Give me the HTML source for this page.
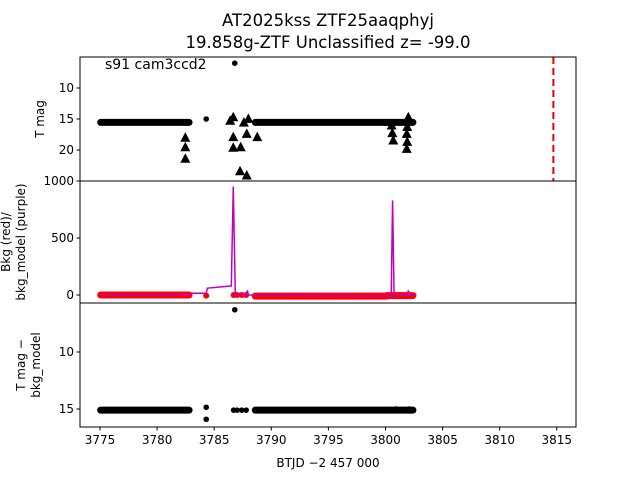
<!DOCTYPE html>
<html><head><meta charset="utf-8"><style>
body{margin:0;background:#fff;}
svg text{font-family:"DejaVu Sans","Liberation Sans",sans-serif;}
</style></head><body>
<svg id="chart" width="640" height="480" viewBox="0 0 640 480" xmlns="http://www.w3.org/2000/svg">
<text x="328" y="26" font-size="16.5" text-anchor="middle">AT2025kss  ZTF25aaqphyj</text>
<text x="328" y="48" font-size="16.5" text-anchor="middle">19.858g-ZTF Unclassified z= -99.0</text>
<g id="marks"></g>
<text x="105" y="69" font-size="14">s91 cam3ccd2</text>
<text transform="translate(44,119) rotate(-90)" font-size="12" text-anchor="middle">T mag</text>
<text transform="translate(10,242) rotate(-90)" font-size="12" text-anchor="middle">Bkg (red)/</text>
<text transform="translate(25,242) rotate(-90)" font-size="12" text-anchor="middle">bkg_model (purple)</text>
<text transform="translate(25,365) rotate(-90)" font-size="12" text-anchor="middle">T mag −</text>
<text transform="translate(40,365) rotate(-90)" font-size="12" text-anchor="middle">bkg_model</text>
<text x="328" y="467" font-size="12" text-anchor="middle">BTJD −2 457 000</text>
</svg>
<script>
const xTicks=[3775,3780,3785,3790,3795,3800,3805,3810,3815];
const topTicks=[10,15,20];
const midTicks=[0,500,1000];
const botTicks=[10,15];
const bandSegs=[[3775.06,3782.8],[3788.6,3800.1],[3800.1,3802.4]];
const topBandMag=[15.55,15.55,15.55];
const topDotsT=[3784.3,3786.8];
const topDotsMag=[15.0,6.0];
const triT=[3782.47,3782.47,3782.47,3786.67,3786.67,3786.67,3787.32,3787.99,3787.85,3788.77,3787.26,3787.85,3800.54,3800.68,3802.0,3801.86,3801.86,3786.4,3787.6,3800.6,3801.9,3801.9];
const triMag=[17.95,19.47,21.34,14.63,17.85,19.56,19.47,14.89,17.31,17.85,23.34,24.03,15.97,18.39,14.63,17.31,19.73,15.2,15.5,17.2,16.2,18.6];
const bkgSegVals=[0,-10,-5];
const bkgDotsT=[3784.3,3786.7,3787.0,3787.4,3787.8,3800.9,3801.3,3801.7,3802.1];
const bkgDotsV=[-5,0,0,0,0,-5,0,0,-5];
const modelT=[3775.06,3782.8,3782.9,3784.3,3784.4,3786.5,3786.67,3786.85,3787.8,3787.9,3788.0,3799.9,3800.5,3800.62,3800.75,3801.9,3802.0,3802.1,3802.7];
const modelV=[0,0,15,15,60,80,950,0,0,40,0,-10,-10,830,0,0,40,0,10];
const botBandMag=[15.1,15.1,15.1];
const botDotsT=[3784.3,3784.3,3786.8,3786.7,3787.0,3787.4,3787.8,3800.9,3801.3,3801.7,3802.1];
const botDotsMag=[14.85,15.9,6.3,15.1,15.1,15.1,15.1,15.0,15.1,15.1,15.0];
const vlineT=3814.7;

const NS="http://www.w3.org/2000/svg";
const g=document.getElementById('marks');
const X=t=>100+(t-3775)*11.42;
const L=80,R=576;
const P={top:[57,181],mid:[181,303],bot:[303,427]};
const yTop=m=>88+(m-10)*6.2;
const yMid=v=>295-v*0.114;
const yBot=m=>352+(m-10)*11.4;
function el(tag,attrs){const e=document.createElementNS(NS,tag);for(const k in attrs)e.setAttribute(k,attrs[k]);g.appendChild(e);return e;}
function clip(id,p){const c=document.createElementNS(NS,'clipPath');c.setAttribute('id',id);const r=document.createElementNS(NS,'rect');r.setAttribute('x',L);r.setAttribute('y',p[0]);r.setAttribute('width',R-L);r.setAttribute('height',p[1]-p[0]);c.appendChild(r);g.appendChild(c);}
clip('cT',P.top);clip('cM',P.mid);clip('cB',P.bot);
function grp(id,name){const e=document.createElementNS(NS,'g');e.setAttribute('clip-path','url(#'+id+')');g.appendChild(e);return e;}
function add(parent,tag,attrs){const e=document.createElementNS(NS,tag);for(const k in attrs)e.setAttribute(k,attrs[k]);parent.appendChild(e);return e;}

const gt=grp('cT','top-panel-series');
bandSegs.forEach((s,i)=>{const e=add(gt,'line',{x1:X(s[0]),x2:X(s[1]),y1:yTop(topBandMag[i]),y2:yTop(topBandMag[i]),stroke:'#000','stroke-width':7,'stroke-linecap':'round'});

});
topDotsT.forEach((t,i)=>{const e=add(gt,'circle',{cx:X(t),cy:yTop(topDotsMag[i]),r:2.8,fill:'#000'});

});
triT.forEach((t,i)=>{const x=X(t),y=yTop(triMag[i]);const e=add(gt,'polygon',{points:`${x-5},${y+4.5} ${x+5},${y+4.5} ${x},${y-5}`,fill:'#000'});

});
const vl=add(gt,'line',{x1:X(vlineT),x2:X(vlineT),y1:57,y2:181,stroke:'#e00','stroke-width':2,'stroke-dasharray':'7,4'});



const gm=grp('cM','mid-panel-series');
bandSegs.forEach((s,i)=>{const e=add(gm,'line',{x1:X(s[0]),x2:X(s[1]),y1:yMid(bkgSegVals[i]),y2:yMid(bkgSegVals[i]),stroke:'#f00','stroke-width':7,'stroke-linecap':'round'});

});
bkgDotsT.forEach((t,i)=>{const e=add(gm,'circle',{cx:X(t),cy:yMid(bkgDotsV[i]),r:3,fill:'#f00'});

});
const ml=add(gm,'polyline',{points:modelT.map((t,i)=>X(t)+','+yMid(modelV[i])).join(' '),fill:'none',stroke:'#bf00bf','stroke-width':1.5});



const gb=grp('cB','bottom-panel-series');
bandSegs.forEach((s,i)=>{const e=add(gb,'line',{x1:X(s[0]),x2:X(s[1]),y1:yBot(botBandMag[i]),y2:yBot(botBandMag[i]),stroke:'#000','stroke-width':7,'stroke-linecap':'round'});

});
botDotsT.forEach((t,i)=>{const e=add(gb,'circle',{cx:X(t),cy:yBot(botDotsMag[i]),r:2.8,fill:'#000'});

});

function frame(p,name,ticks,yf){
 const r=el('rect',{x:L,y:p[0],width:R-L,height:p[1]-p[0],fill:'none',stroke:'#000','stroke-width':1});
 
 
 ticks.forEach(v=>{const y=yf(v);el('line',{x1:L-3.5,x2:L,y1:y,y2:y,stroke:'#000'});
 const tx=el('text',{x:L-6,y:y+4,'font-size':12,'text-anchor':'end'});tx.textContent=v;
 
 });
}
frame(P.top,'top-panel-frame',topTicks,yTop);
frame(P.mid,'mid-panel-frame',midTicks,yMid);
frame(P.bot,'bottom-panel-frame',botTicks,yBot);
xTicks.forEach(t=>{const x=X(t);el('line',{x1:x,x2:x,y1:427,y2:430.5,stroke:'#000'});
const tx=el('text',{x:x,y:444,'font-size':12,'text-anchor':'middle'});tx.textContent=t;

});
</script>
</body></html>
